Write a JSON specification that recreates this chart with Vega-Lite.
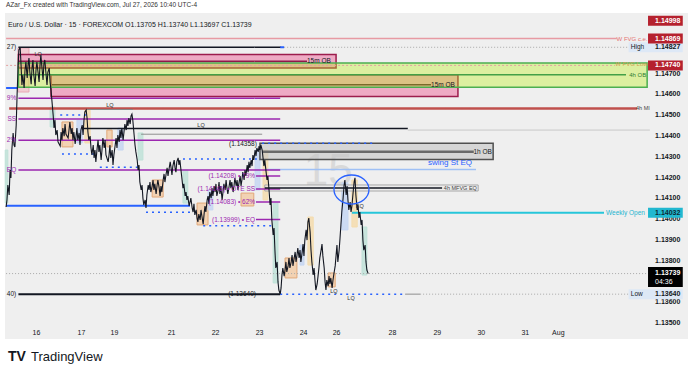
{
"$schema": "https://vega.github.io/schema/vega-lite/v6.json",
"width": 644,
"height": 308,
"autosize": {"type": "none"},
"padding": {"left": 6, "top": 15, "right": 40, "bottom": 51},
"background": "#ffffff",
"config": {"view": {"stroke": null}, "font": "Liberation Sans", "axis": {"labelOverlap": false, "labelBound": false}, "axisY": {"disable": true}},
"title": {"text": "AZar_Fx created with TradingView.com, Jul 27, 2026 10:40 UTC-4", "anchor": "start", "frame": "group", "fontSize": 6.5, "fontWeight": "normal", "color": "#333333", "offset": 4, "font": "Liberation Sans"},
"resolve": {"scale": {"color": "independent", "fill": "independent", "stroke": "independent", "size": "independent", "strokeWidth": "independent", "strokeDash": "independent"}},
"datasets": {
"price": [{"t":-0.68,"p":1.14059},{"t":-0.66,"p":1.14093},{"t":-0.64,"p":1.14165},{"t":-0.61,"p":1.14117},{"t":-0.59,"p":1.14237},{"t":-0.57,"p":1.14199},{"t":-0.55,"p":1.14333},{"t":-0.52,"p":1.14415},{"t":-0.5,"p":1.14357},{"t":-0.48,"p":1.14348},{"t":-0.45,"p":1.14453},{"t":-0.43,"p":1.14598},{"t":-0.41,"p":1.14718},{"t":-0.39,"p":1.14814},{"t":-0.36,"p":1.14827},{"t":-0.34,"p":1.14742},{"t":-0.32,"p":1.14646},{"t":-0.3,"p":1.14694},{"t":-0.27,"p":1.14631},{"t":-0.25,"p":1.14718},{"t":-0.23,"p":1.14756},{"t":-0.2,"p":1.14679},{"t":-0.18,"p":1.14742},{"t":-0.16,"p":1.14775},{"t":-0.14,"p":1.14708},{"t":-0.11,"p":1.1465},{"t":-0.09,"p":1.14727},{"t":-0.07,"p":1.14766},{"t":-0.05,"p":1.14694},{"t":-0.02,"p":1.14641},{"t":0,"p":1.14718},{"t":0.02,"p":1.14756},{"t":0.05,"p":1.14699},{"t":0.07,"p":1.1466},{"t":0.09,"p":1.14737},{"t":0.11,"p":1.1479},{"t":0.14,"p":1.14718},{"t":0.16,"p":1.1467},{"t":0.18,"p":1.14747},{"t":0.2,"p":1.14766},{"t":0.23,"p":1.14694},{"t":0.25,"p":1.14646},{"t":0.27,"p":1.14708},{"t":0.3,"p":1.14727},{"t":0.32,"p":1.1466},{"t":0.34,"p":1.14622},{"t":0.36,"p":1.14574},{"t":0.39,"p":1.14501},{"t":0.41,"p":1.14439},{"t":0.43,"p":1.14477},{"t":0.45,"p":1.14405},{"t":0.48,"p":1.14429},{"t":0.5,"p":1.14372},{"t":0.55,"p":1.14352},{"t":0.57,"p":1.1442},{"t":0.59,"p":1.14381},{"t":0.61,"p":1.14439},{"t":0.64,"p":1.144},{"t":0.66,"p":1.14458},{"t":0.68,"p":1.1441},{"t":0.73,"p":1.14391},{"t":0.75,"p":1.14429},{"t":0.77,"p":1.14468},{"t":0.8,"p":1.1441},{"t":0.82,"p":1.14439},{"t":0.84,"p":1.14381},{"t":0.86,"p":1.1442},{"t":0.89,"p":1.14362},{"t":0.91,"p":1.144},{"t":0.93,"p":1.14439},{"t":0.95,"p":1.14381},{"t":0.98,"p":1.14415},{"t":1,"p":1.14357},{"t":1.02,"p":1.14429},{"t":1.05,"p":1.14453},{"t":1.07,"p":1.14405},{"t":1.09,"p":1.14477},{"t":1.11,"p":1.14516},{"t":1.14,"p":1.14525},{"t":1.16,"p":1.14487},{"t":1.18,"p":1.1442},{"t":1.2,"p":1.14381},{"t":1.23,"p":1.144},{"t":1.25,"p":1.14343},{"t":1.27,"p":1.14309},{"t":1.3,"p":1.14357},{"t":1.32,"p":1.14295},{"t":1.34,"p":1.14333},{"t":1.36,"p":1.14276},{"t":1.39,"p":1.14343},{"t":1.41,"p":1.14381},{"t":1.43,"p":1.14324},{"t":1.45,"p":1.14357},{"t":1.48,"p":1.14285},{"t":1.5,"p":1.14333},{"t":1.52,"p":1.14391},{"t":1.55,"p":1.14343},{"t":1.57,"p":1.14381},{"t":1.59,"p":1.14309},{"t":1.64,"p":1.14276},{"t":1.66,"p":1.14309},{"t":1.68,"p":1.14357},{"t":1.7,"p":1.14295},{"t":1.73,"p":1.14333},{"t":1.75,"p":1.14261},{"t":1.77,"p":1.14309},{"t":1.8,"p":1.14357},{"t":1.82,"p":1.14391},{"t":1.84,"p":1.14343},{"t":1.86,"p":1.14405},{"t":1.89,"p":1.14372},{"t":1.91,"p":1.14429},{"t":1.93,"p":1.14391},{"t":1.95,"p":1.14439},{"t":1.98,"p":1.14381},{"t":2,"p":1.1442},{"t":2.02,"p":1.14458},{"t":2.05,"p":1.14429},{"t":2.07,"p":1.14477},{"t":2.09,"p":1.14449},{"t":2.11,"p":1.14487},{"t":2.14,"p":1.14458},{"t":2.16,"p":1.14497},{"t":2.18,"p":1.14506},{"t":2.2,"p":1.14477},{"t":2.23,"p":1.14405},{"t":2.25,"p":1.14357},{"t":2.27,"p":1.14324},{"t":2.3,"p":1.14285},{"t":2.32,"p":1.14237},{"t":2.34,"p":1.14261},{"t":2.36,"p":1.14179},{"t":2.39,"p":1.14141},{"t":2.41,"p":1.14165},{"t":2.43,"p":1.14102},{"t":2.45,"p":1.14069},{"t":2.48,"p":1.14093},{"t":2.5,"p":1.14054},{"t":2.52,"p":1.14117},{"t":2.55,"p":1.14165},{"t":2.57,"p":1.14141},{"t":2.59,"p":1.14179},{"t":2.61,"p":1.14131},{"t":2.64,"p":1.1416},{"t":2.66,"p":1.14189},{"t":2.68,"p":1.14141},{"t":2.7,"p":1.1417},{"t":2.73,"p":1.14122},{"t":2.75,"p":1.1416},{"t":2.77,"p":1.14189},{"t":2.8,"p":1.1415},{"t":2.82,"p":1.14112},{"t":2.84,"p":1.1416},{"t":2.86,"p":1.14131},{"t":2.89,"p":1.14189},{"t":2.91,"p":1.14218},{"t":2.93,"p":1.14179},{"t":2.95,"p":1.14208},{"t":2.98,"p":1.14247},{"t":3,"p":1.14208},{"t":3.02,"p":1.14237},{"t":3.05,"p":1.14276},{"t":3.07,"p":1.14247},{"t":3.09,"p":1.14213},{"t":3.11,"p":1.14256},{"t":3.14,"p":1.14285},{"t":3.16,"p":1.14247},{"t":3.18,"p":1.14227},{"t":3.2,"p":1.14276},{"t":3.23,"p":1.14295},{"t":3.25,"p":1.14261},{"t":3.27,"p":1.14285},{"t":3.3,"p":1.14227},{"t":3.32,"p":1.14189},{"t":3.34,"p":1.1415},{"t":3.36,"p":1.1417},{"t":3.39,"p":1.14112},{"t":3.41,"p":1.14131},{"t":3.43,"p":1.14093},{"t":3.45,"p":1.14112},{"t":3.48,"p":1.14064},{"t":3.5,"p":1.14083},{"t":3.52,"p":1.14102},{"t":3.55,"p":1.14054},{"t":3.57,"p":1.14035},{"t":3.59,"p":1.14074},{"t":3.61,"p":1.14021},{"t":3.64,"p":1.14045},{"t":3.66,"p":1.14006},{"t":3.68,"p":1.13987},{"t":3.7,"p":1.14025},{"t":3.73,"p":1.13997},{"t":3.75,"p":1.14045},{"t":3.77,"p":1.14016},{"t":3.8,"p":1.13977},{"t":3.82,"p":1.14025},{"t":3.84,"p":1.14064},{"t":3.86,"p":1.14035},{"t":3.89,"p":1.14093},{"t":3.91,"p":1.14112},{"t":3.93,"p":1.14074},{"t":3.95,"p":1.14131},{"t":3.98,"p":1.14102},{"t":4,"p":1.1415},{"t":4.02,"p":1.14112},{"t":4.05,"p":1.1416},{"t":4.07,"p":1.14131},{"t":4.09,"p":1.1417},{"t":4.11,"p":1.14112},{"t":4.14,"p":1.14141},{"t":4.16,"p":1.14179},{"t":4.18,"p":1.14122},{"t":4.2,"p":1.1416},{"t":4.23,"p":1.14093},{"t":4.25,"p":1.14131},{"t":4.27,"p":1.1417},{"t":4.3,"p":1.14141},{"t":4.32,"p":1.14189},{"t":4.34,"p":1.1415},{"t":4.36,"p":1.14122},{"t":4.39,"p":1.1416},{"t":4.41,"p":1.14189},{"t":4.43,"p":1.1415},{"t":4.45,"p":1.14179},{"t":4.48,"p":1.14131},{"t":4.5,"p":1.1416},{"t":4.52,"p":1.14199},{"t":4.55,"p":1.1416},{"t":4.57,"p":1.14189},{"t":4.59,"p":1.14141},{"t":4.61,"p":1.1417},{"t":4.64,"p":1.14208},{"t":4.66,"p":1.1416},{"t":4.68,"p":1.14189},{"t":4.7,"p":1.14227},{"t":4.73,"p":1.14189},{"t":4.75,"p":1.14237},{"t":4.77,"p":1.14208},{"t":4.8,"p":1.14261},{"t":4.82,"p":1.14227},{"t":4.84,"p":1.14276},{"t":4.86,"p":1.14247},{"t":4.89,"p":1.14285},{"t":4.91,"p":1.14256},{"t":4.93,"p":1.14309},{"t":4.95,"p":1.14285},{"t":4.98,"p":1.14333},{"t":5,"p":1.14304},{"t":5.02,"p":1.14343},{"t":5.05,"p":1.14324},{"t":5.07,"p":1.14352},{"t":5.09,"p":1.14333},{"t":5.11,"p":1.14358},{"t":5.14,"p":1.14333},{"t":5.16,"p":1.14295},{"t":5.18,"p":1.14256},{"t":5.2,"p":1.14285},{"t":5.23,"p":1.14227},{"t":5.25,"p":1.14189},{"t":5.27,"p":1.14208},{"t":5.3,"p":1.14131},{"t":5.32,"p":1.14069},{"t":5.34,"p":1.14102},{"t":5.36,"p":1.13997},{"t":5.39,"p":1.13925},{"t":5.41,"p":1.13958},{"t":5.43,"p":1.13852},{"t":5.45,"p":1.13766},{"t":5.48,"p":1.13795},{"t":5.5,"p":1.13699},{"t":5.52,"p":1.1366},{"t":5.55,"p":1.1364},{"t":5.57,"p":1.1367},{"t":5.59,"p":1.13732},{"t":5.61,"p":1.13766},{"t":5.64,"p":1.13727},{"t":5.66,"p":1.13756},{"t":5.68,"p":1.13795},{"t":5.7,"p":1.13747},{"t":5.73,"p":1.13776},{"t":5.75,"p":1.13814},{"t":5.77,"p":1.13766},{"t":5.8,"p":1.13795},{"t":5.82,"p":1.13828},{"t":5.84,"p":1.13776},{"t":5.86,"p":1.13804},{"t":5.89,"p":1.13843},{"t":5.91,"p":1.13795},{"t":5.93,"p":1.13824},{"t":5.95,"p":1.13862},{"t":5.98,"p":1.13814},{"t":6,"p":1.13852},{"t":6.02,"p":1.13795},{"t":6.05,"p":1.13843},{"t":6.07,"p":1.13881},{"t":6.09,"p":1.13824},{"t":6.11,"p":1.139},{"t":6.14,"p":1.13949},{"t":6.16,"p":1.139},{"t":6.18,"p":1.13987},{"t":6.2,"p":1.14006},{"t":6.23,"p":1.13939},{"t":6.25,"p":1.13852},{"t":6.27,"p":1.13795},{"t":6.3,"p":1.13732},{"t":6.32,"p":1.13766},{"t":6.34,"p":1.13708},{"t":6.36,"p":1.1366},{"t":6.39,"p":1.13689},{"t":6.41,"p":1.13727},{"t":6.43,"p":1.13766},{"t":6.45,"p":1.13814},{"t":6.48,"p":1.13852},{"t":6.5,"p":1.13881},{"t":6.52,"p":1.13824},{"t":6.55,"p":1.13766},{"t":6.57,"p":1.13699},{"t":6.59,"p":1.1366},{"t":6.61,"p":1.13708},{"t":6.64,"p":1.13679},{"t":6.66,"p":1.13727},{"t":6.68,"p":1.13689},{"t":6.7,"p":1.13718},{"t":6.73,"p":1.1367},{"t":6.75,"p":1.13708},{"t":6.77,"p":1.13737},{"t":6.8,"p":1.13776},{"t":6.84,"p":1.13876},{"t":6.86,"p":1.13795},{"t":6.89,"p":1.13852},{"t":6.91,"p":1.1391},{"t":6.93,"p":1.13973},{"t":6.95,"p":1.14035},{"t":6.98,"p":1.14102},{"t":7,"p":1.1416},{"t":7.02,"p":1.14189},{"t":7.05,"p":1.14117},{"t":7.07,"p":1.1416},{"t":7.09,"p":1.14093},{"t":7.11,"p":1.14045},{"t":7.14,"p":1.14083},{"t":7.16,"p":1.14035},{"t":7.18,"p":1.14064},{"t":7.2,"p":1.14112},{"t":7.23,"p":1.14179},{"t":7.25,"p":1.14199},{"t":7.27,"p":1.14117},{"t":7.3,"p":1.14045},{"t":7.32,"p":1.14069},{"t":7.34,"p":1.14006},{"t":7.36,"p":1.14035},{"t":7.39,"p":1.13973},{"t":7.41,"p":1.13997},{"t":7.43,"p":1.139},{"t":7.45,"p":1.13852},{"t":7.48,"p":1.13876},{"t":7.5,"p":1.13795},{"t":7.52,"p":1.13756},{"t":7.55,"p":1.13739}],
"boxes": [{"t1":-0.41,"t2":-0.16,"p1":1.14824,"p2":1.14612,"kind":"pink"},{"t1":0.59,"t2":0.84,"p1":1.14468,"p2":1.14348,"kind":"tan"},{"t1":0.93,"t2":1.05,"p1":1.14477,"p2":1.14367,"kind":"blue"},{"t1":1.11,"t2":1.23,"p1":1.14525,"p2":1.14367,"kind":"orange"},{"t1":1.61,"t2":1.73,"p1":1.14429,"p2":1.14348,"kind":"tan"},{"t1":1.86,"t2":1.98,"p1":1.14439,"p2":1.14333,"kind":"blue"},{"t1":2.32,"t2":2.43,"p1":1.14415,"p2":1.14285,"kind":"teal"},{"t1":2.64,"t2":2.89,"p1":1.14189,"p2":1.14107,"kind":"tan"},{"t1":3.34,"t2":3.45,"p1":1.14237,"p2":1.14078,"kind":"teal"},{"t1":3.66,"t2":3.91,"p1":1.14078,"p2":1.13973,"kind":"tan"},{"t1":3.91,"t2":4.02,"p1":1.14141,"p2":1.14045,"kind":"blue"},{"t1":4.66,"t2":4.95,"p1":1.14126,"p2":1.14064,"kind":"tan"},{"t1":4.98,"t2":5.09,"p1":1.14333,"p2":1.14141,"kind":"blue"},{"t1":5.16,"t2":5.27,"p1":1.14333,"p2":1.14093,"kind":"orange"},{"t1":5.39,"t2":5.5,"p1":1.14078,"p2":1.13694,"kind":"teal"},{"t1":5.66,"t2":5.93,"p1":1.13814,"p2":1.13718,"kind":"tan"},{"t1":6.0,"t2":6.09,"p1":1.13876,"p2":1.1378,"kind":"blue"},{"t1":6.18,"t2":6.3,"p1":1.14011,"p2":1.1378,"kind":"orange"},{"t1":6.64,"t2":6.8,"p1":1.13742,"p2":1.13675,"kind":"tan"},{"t1":6.95,"t2":7.09,"p1":1.14175,"p2":1.13949,"kind":"blue"},{"t1":7.18,"t2":7.3,"p1":1.14189,"p2":1.13963,"kind":"orange"},{"t1":7.41,"t2":7.52,"p1":1.13963,"p2":1.13732,"kind":"teal"},{"t1":0.32,"t2":0.43,"p1":1.1454,"p2":1.14444,"kind":"teal"},{"t1":-0.7,"t2":-0.64,"p1":1.14333,"p2":1.14078,"kind":"teal"}],
"zones": [{"t1":-0.4,"t2":6.82,"p1":1.14792,"p2":1.14727,"kind":"pink"},{"t1":0.34,"t2":9.59,"p1":1.14695,"p2":1.1459,"kind":"pink"},{"t1":-0.4,"t2":13.89,"p1":1.14751,"p2":1.14635,"kind":"green"},{"t1":5.09,"t2":10.39,"p1":1.14365,"p2":1.14288,"kind":"gray"},{"t1":5.2,"t2":10.05,"p1":1.14165,"p2":1.14136,"kind":"outline"}],
"levels": [{"t1":-0.68,"t2":13.2,"p":1.14869,"kind":"wfvgce"},{"t1":-0.68,"t2":13.16,"p":1.1474,"kind":"wfvglow"},{"t1":-0.4,"t2":5.57,"p":1.14827,"kind":"black"},{"t1":5.55,"t2":5.64,"p":1.14827,"kind":"blue"},{"t1":5.64,"t2":13.45,"p":1.14827,"kind":"dotgray"},{"t1":-0.4,"t2":6.16,"p":1.1476,"kind":"magenta"},{"t1":-0.4,"t2":13.41,"p":1.14695,"kind":"green"},{"t1":0.36,"t2":8.98,"p":1.14647,"kind":"olive"},{"t1":-0.68,"t2":-0.41,"p":1.14631,"kind":"blue"},{"t1":-0.4,"t2":5.55,"p":1.14582,"kind":"purple"},{"t1":-0.61,"t2":13.66,"p":1.14533,"kind":"mi"},{"t1":1.16,"t2":2.2,"p":1.14528,"kind":"gray"},{"t1":0.55,"t2":1.14,"p":1.14501,"kind":"bluedot"},{"t1":-0.4,"t2":5.55,"p":1.14482,"kind":"purple"},{"t1":1.09,"t2":8.45,"p":1.14437,"kind":"black"},{"t1":8.45,"t2":13.95,"p":1.14429,"kind":"lightgray"},{"t1":2.39,"t2":5.14,"p":1.14409,"kind":"gray"},{"t1":-0.4,"t2":5.55,"p":1.1438,"kind":"purple"},{"t1":5.14,"t2":7.73,"p":1.14365,"kind":"bluedot"},{"t1":5.14,"t2":9.95,"p":1.14325,"kind":"obgray"},{"t1":0.59,"t2":1.34,"p":1.14314,"kind":"bluedot"},{"t1":3.34,"t2":5.02,"p":1.1429,"kind":"bluedot"},{"t1":1.45,"t2":2.34,"p":1.1425,"kind":"bluedot"},{"t1":5.2,"t2":10.0,"p":1.14239,"kind":"lightblue"},{"t1":-0.4,"t2":5.55,"p":1.14237,"kind":"purple"},{"t1":5.0,"t2":5.55,"p":1.14208,"kind":"purple"},{"t1":5.0,"t2":5.55,"p":1.14146,"kind":"purple"},{"t1":5.0,"t2":5.55,"p":1.14083,"kind":"purple"},{"t1":5.0,"t2":5.55,"p":1.13999,"kind":"purple"},{"t1":5.2,"t2":9.23,"p":1.1415,"kind":"black"},{"t1":-0.68,"t2":3.5,"p":1.14065,"kind":"blue"},{"t1":2.5,"t2":3.5,"p":1.14034,"kind":"bluedot"},{"t1":7.18,"t2":12.91,"p":1.14032,"kind":"cyan"},{"t1":3.8,"t2":5.41,"p":1.13969,"kind":"bluedot"},{"t1":-0.68,"t2":13.95,"p":1.13739,"kind":"dotgray"},{"t1":-0.4,"t2":5.55,"p":1.1364,"kind":"blackthick"},{"t1":5.55,"t2":8.39,"p":1.1364,"kind":"bluedot"},{"t1":8.39,"t2":8.73,"p":1.1364,"kind":"gray"},{"t1":8.73,"t2":13.5,"p":1.1364,"kind":"dotgray"}],
"rlabels": [{"t":13.9,"p":1.14869,"text":"W FVG c.e.","kind":"pink"},{"t":13.9,"p":1.14745,"text":"W FVG Low","kind":"orange"},{"t":13.87,"p":1.14695,"text":"4h OB","kind":"green"},{"t":6.7,"p":1.1476,"text":"15m OB","kind":"dark"},{"t":9.52,"p":1.14647,"text":"15m OB","kind":"dark"},{"t":13.95,"p":1.14533,"text":"4h MI","kind":"small"},{"t":10.36,"p":1.14325,"text":"1h OB","kind":"dark"},{"t":10.02,"p":1.1415,"text":"4h MFVG EQ","kind":"small"},{"t":13.84,"p":1.14032,"text":"Weekly Open","kind":"cyan"},{"t":9.91,"p":1.14269,"text":"swing St EQ","kind":"blue"},{"t":4.98,"p":1.14208,"text":"(1.14208) • 79%","kind":"purple"},{"t":4.98,"p":1.14146,"text":"(1.14146) • OTE SS","kind":"purple"},{"t":4.98,"p":1.14083,"text":"(1.14083) • 62%","kind":"purple"},{"t":4.98,"p":1.13999,"text":"(1.13999) • EQ","kind":"purple"},{"t":5.02,"p":1.14362,"text":"(1.14358)","kind":"dark"},{"t":5.0,"p":1.1364,"text":"(1.13640)","kind":"dark"},{"t":-0.45,"p":1.14827,"text":"27)","kind":"dark"},{"t":-0.45,"p":1.14582,"text":"9%","kind":"purple"},{"t":-0.45,"p":1.14482,"text":"SS","kind":"purple"},{"t":-0.45,"p":1.1438,"text":"2%","kind":"purple"},{"t":-0.45,"p":1.14237,"text":"EQ","kind":"purple"},{"t":-0.45,"p":1.1364,"text":"40)","kind":"dark"}],
"small": [{"t":0.05,"p":1.14795,"text":"LQ"},{"t":1.68,"p":1.1455,"text":"LQ"},{"t":3.75,"p":1.14453,"text":"LQ"},{"t":6.77,"p":1.13655,"text":"LQ"},{"t":7.16,"p":1.13622,"text":"LQ"},{"t":7.36,"p":1.14064,"text":"EQ"}],
"yticks": [{"p":1.147,"text":"1.14700"},{"p":1.146,"text":"1.14600"},{"p":1.145,"text":"1.14500"},{"p":1.144,"text":"1.14400"},{"p":1.143,"text":"1.14300"},{"p":1.142,"text":"1.14200"},{"p":1.141,"text":"1.14100"},{"p":1.14,"text":"1.14000"},{"p":1.139,"text":"1.13900"},{"p":1.138,"text":"1.13800"},{"p":1.136,"text":"1.13600"},{"p":1.135,"text":"1.13500"}],
"tags": [{"p":1.14955,"text":"1.14998","kind":"red"},{"p":1.14869,"text":"1.14869","kind":"red"},{"p":1.1474,"text":"1.14740","kind":"red"},{"p":1.14032,"text":"1.14032","kind":"cyan"},{"p":1.14827,"text":"1.14827","kind":"high","tag":"High"},{"p":1.1364,"text":"1.13640","kind":"low","tag":"Low"}],
"last": [{"p":1.13739,"text":"1.13739","timer":"04:36"}]
},
"layer": [
{"data": {"values": [{}]}, "mark": {"type": "rect", "color": "#efefef"},
 "encoding": {"x": {"datum": -0.705, "type": "quantitative", "title": null}, "x2": {"datum": 14.82}, "y": {"datum": 1.14992, "type": "quantitative", "title": null}, "y2": {"datum": 1.13425}}},
{"data": {"values": [{}]}, "mark": {"type": "text", "text": "15", "fontSize": 44, "color": "#d9d9d9", "align": "center", "baseline": "middle"},
 "encoding": {"x": {"datum": 6.64, "type": "quantitative", "title": null}, "y": {"datum": 1.14227, "type": "quantitative", "title": null}}},
{"data": {"name": "boxes"}, "mark": {"type": "rect", "fillOpacity": 0.85, "strokeWidth": 1},
 "encoding": {"x": {"field": "t1", "type": "quantitative", "title": null}, "x2": {"field": "t2"}, "y": {"field": "p1", "type": "quantitative", "title": null}, "y2": {"field": "p2"},
  "fill": {"field": "kind", "type": "nominal", "scale": {"domain": ["tan","blue","teal","orange","pink"], "range": ["#f2cda8","#c6d6f2","#bfe2d8","#f4dcae","#f2c4cc"]}, "legend": null},
  "stroke": {"field": "kind", "type": "nominal", "scale": {"domain": ["tan","blue","teal","orange","pink"], "range": ["#e2a878","#c6d6f2","#bfe2d8","#f4dcae","#e8a8b4"]}, "legend": null}}},
{"data": {"name": "zones"}, "transform": [{"filter": "datum.kind === 'pink'"}], "mark": {"type": "rect", "fill": "#eeaac4", "stroke": "#9c1d4d", "strokeWidth": 1.5},
 "encoding": {"x": {"field": "t1", "type": "quantitative", "title": null}, "x2": {"field": "t2"}, "y": {"field": "p1", "type": "quantitative", "title": null}, "y2": {"field": "p2"}}},
{"data": {"name": "zones"}, "transform": [{"filter": "datum.kind === 'green'"}], "mark": {"type": "rect", "fill": "#b9f20d", "fillOpacity": 0.35, "stroke": "#4caf50", "strokeWidth": 1.5},
 "encoding": {"x": {"field": "t1", "type": "quantitative", "title": null}, "x2": {"field": "t2"}, "y": {"field": "p1", "type": "quantitative", "title": null}, "y2": {"field": "p2"}}},
{"data": {"name": "zones"}, "transform": [{"filter": "datum.kind === 'gray'"}], "mark": {"type": "rect", "fill": "#c4c4c4", "fillOpacity": 0.6, "stroke": "#505050", "strokeWidth": 1.5},
 "encoding": {"x": {"field": "t1", "type": "quantitative", "title": null}, "x2": {"field": "t2"}, "y": {"field": "p1", "type": "quantitative", "title": null}, "y2": {"field": "p2"}}},
{"data": {"name": "zones"}, "transform": [{"filter": "datum.kind === 'outline'"}], "mark": {"type": "rect", "fill": "#e9e9e9", "fillOpacity": 0.6, "stroke": "#a8a8a8", "strokeWidth": 1},
 "encoding": {"x": {"field": "t1", "type": "quantitative", "title": null}, "x2": {"field": "t2"}, "y": {"field": "p1", "type": "quantitative", "title": null}, "y2": {"field": "p2"}}},
{"data": {"name": "levels"}, "mark": {"type": "rule", "strokeCap": "butt"},
 "encoding": {"x": {"field": "t1", "type": "quantitative", "title": null}, "x2": {"field": "t2"}, "y": {"field": "p", "type": "quantitative", "title": null},
  "color": {"field": "kind", "type": "nominal", "scale": {"domain": ["wfvgce","wfvglow","black","blackthick","blue","bluedot","dotgray","magenta","green","olive","purple","mi","gray","lightgray","obgray","lightblue","cyan"], "range": ["#e79aa3","#e3a0a0","#131722","#131722","#2962ff","#2962ff","#a8a8a8","#8e1a4a","#43a047","#7a6a2a","#9c27b0","#c0504d","#888888","#c4c4c4","#6a6a6a","#9fc0f5","#26c6da"]}, "legend": null},
  "strokeWidth": {"field": "kind", "type": "ordinal", "scale": {"type": "ordinal", "domain": ["wfvgce","wfvglow","black","blackthick","blue","bluedot","dotgray","magenta","green","olive","purple","mi","gray","lightgray","obgray","lightblue","cyan"], "range": [1.5,1,1.5,2,2,1.5,1,1.5,1.5,1.5,1.5,2.5,1,1,2.5,1.5,2]}, "legend": null},
  "strokeDash": {"field": "kind", "type": "nominal", "scale": {"domain": ["wfvgce","wfvglow","black","blackthick","blue","bluedot","dotgray","magenta","green","olive","purple","mi","gray","lightgray","obgray","lightblue","cyan"], "range": [[1,0],[2,2],[1,0],[1,0],[1,0],[2,4],[1,2],[1,0],[1,0],[1,0],[1,0],[1,0],[1,0],[1,0],[1,0],[1,0],[1,0]]}, "legend": null}}},
{"data": {"name": "price"}, "mark": {"type": "line", "color": "#131722", "strokeWidth": 1.1},
 "encoding": {
  "x": {"field": "t", "type": "quantitative", "title": null, "scale": {"domain": [-0.682, 13.955], "nice": false, "zero": false},
   "axis": {"orient": "bottom", "values": [0,1.02,1.77,3.07,4.07,5.07,6.07,6.82,8.09,9.11,10.11,11.11,11.86], "labelExpr": "['16','17','19','21','22','23','24','26','28','29','30','31','Aug'][indexof([0,1.02,1.77,3.07,4.07,5.07,6.07,6.82,8.09,9.11,10.11,11.11,11.86], datum.value)]", "domain": false, "ticks": false, "grid": false, "labelFontSize": 7, "labelColor": "#131722", "labelPadding": 5, "labelFlush": false, "labelOverlap": false, "labelFont": "Liberation Sans", "zindex": 1}},
  "y": {"field": "p", "type": "quantitative", "title": null, "scale": {"domain": [1.135014, 1.149822], "nice": false, "zero": false}, "axis": null}}},
{"data": {"values": [{}]}, "mark": {"type": "point", "shape": "M-1,0A1,0.83,0,1,1,1,0A1,0.83,0,1,1,-1,0Z", "size": 1225, "filled": false, "color": "#2962ff", "strokeWidth": 1.3, "opacity": 1},
 "encoding": {"x": {"datum": 7.17, "type": "quantitative", "title": null}, "y": {"datum": 1.14143, "type": "quantitative", "title": null}}},
{"data": {"name": "rlabels"}, "mark": {"type": "text", "align": "right", "baseline": "middle"},
 "encoding": {"x": {"field": "t", "type": "quantitative", "title": null}, "y": {"field": "p", "type": "quantitative", "title": null}, "text": {"field": "text"},
  "color": {"field": "kind", "type": "nominal", "scale": {"domain": ["pink","orange","green","dark","small","cyan","blue","purple"], "range": ["#e57373","#d49a50","#2e7d32","#131722","#444444","#1fb5cf","#2962ff","#9c27b0"]}, "legend": null},
  "size": {"field": "kind", "type": "ordinal", "scale": {"type": "ordinal", "domain": ["pink","orange","green","dark","small","cyan","blue","purple"], "range": [6,6,6,6.5,5.5,6.5,8,6.5]}, "legend": null}}},
{"data": {"name": "small"}, "mark": {"type": "text", "align": "center", "baseline": "middle", "fontSize": 5.5, "color": "#333333"},
 "encoding": {"x": {"field": "t", "type": "quantitative", "title": null}, "y": {"field": "p", "type": "quantitative", "title": null}, "text": {"field": "text"}}},
{"data": {"name": "yticks"}, "mark": {"type": "text", "align": "left", "baseline": "middle", "fontSize": 7, "fontWeight": "bold", "color": "#131722"},
 "encoding": {"x": {"datum": 14.07, "type": "quantitative", "title": null}, "y": {"field": "p", "type": "quantitative", "title": null}, "text": {"field": "text"}}},
{"data": {"name": "tags"}, "transform": [{"filter": "datum.kind === 'high' || datum.kind === 'low'"}], "mark": {"type": "rule", "strokeWidth": 10, "strokeCap": "butt", "color": "#dde8f6"},
 "encoding": {"x": {"datum": 13.47, "type": "quantitative", "title": null}, "x2": {"datum": 14.7}, "y": {"field": "p", "type": "quantitative", "title": null}}},
{"data": {"name": "tags"}, "transform": [{"filter": "datum.kind === 'red' || datum.kind === 'cyan'"}], "mark": {"type": "rule", "strokeWidth": 10, "strokeCap": "butt"},
 "encoding": {"x": {"datum": 13.91, "type": "quantitative", "title": null}, "x2": {"datum": 14.7}, "y": {"field": "p", "type": "quantitative", "title": null},
  "color": {"field": "kind", "type": "nominal", "scale": {"domain": ["red","cyan"], "range": ["#b5212e","#22b8d0"]}, "legend": null}}},
{"data": {"name": "tags"}, "mark": {"type": "text", "align": "left", "baseline": "middle", "fontSize": 7, "fontWeight": "bold"},
 "encoding": {"x": {"datum": 14.07, "type": "quantitative", "title": null}, "y": {"field": "p", "type": "quantitative", "title": null}, "text": {"field": "text"},
  "color": {"field": "kind", "type": "nominal", "scale": {"domain": ["red","cyan","high","low"], "range": ["#ffffff","#0d2a33","#131722","#131722"]}, "legend": null}}},
{"data": {"name": "tags"}, "transform": [{"filter": "datum.tag"}], "mark": {"type": "text", "align": "left", "baseline": "middle", "fontSize": 6.5, "color": "#131722"},
 "encoding": {"x": {"datum": 13.52, "type": "quantitative", "title": null}, "y": {"field": "p", "type": "quantitative", "title": null}, "text": {"field": "tag"}}},
{"data": {"name": "last"}, "mark": {"type": "rule", "strokeWidth": 20, "strokeCap": "butt", "color": "#000000", "yOffset": 3.5},
 "encoding": {"x": {"datum": 13.91, "type": "quantitative", "title": null}, "x2": {"datum": 14.7}, "y": {"field": "p", "type": "quantitative", "title": null}}},
{"data": {"name": "last"}, "mark": {"type": "text", "align": "left", "baseline": "middle", "fontSize": 7, "fontWeight": "bold", "color": "#ffffff", "yOffset": -0.5},
 "encoding": {"x": {"datum": 14.07, "type": "quantitative", "title": null}, "y": {"field": "p", "type": "quantitative", "title": null}, "text": {"field": "text"}}},
{"data": {"name": "last"}, "mark": {"type": "text", "align": "left", "baseline": "middle", "fontSize": 7, "color": "#ffffff", "yOffset": 8.5},
 "encoding": {"x": {"datum": 14.07, "type": "quantitative", "title": null}, "y": {"field": "p", "type": "quantitative", "title": null}, "text": {"field": "timer"}}},
{"data": {"values": [{"text": "Euro / U.S. Dollar · 15 · FOREXCOM  O1.13705  H1.13740  L1.13697  C1.13739"}]}, "mark": {"type": "text", "align": "left", "baseline": "middle", "fontSize": 7, "color": "#131722"},
 "encoding": {"x": {"datum": -0.636, "type": "quantitative", "title": null}, "y": {"datum": 1.149365, "type": "quantitative", "title": null}, "text": {"field": "text"}}},
{"data": {"values": [{"text": "TV"}]}, "mark": {"type": "text", "align": "left", "baseline": "middle", "fontSize": 14, "fontWeight": "bold", "color": "#131722"},
 "encoding": {"x": {"datum": -0.636, "type": "quantitative", "title": null}, "y": {"datum": 1.13338, "type": "quantitative", "title": null}, "text": {"field": "text"}}},
{"data": {"values": [{"text": "TradingView"}]}, "mark": {"type": "text", "align": "left", "baseline": "middle", "fontSize": 13, "color": "#131722"},
 "encoding": {"x": {"datum": -0.114, "type": "quantitative", "title": null}, "y": {"datum": 1.13338, "type": "quantitative", "title": null}, "text": {"field": "text"}}}
]
}
